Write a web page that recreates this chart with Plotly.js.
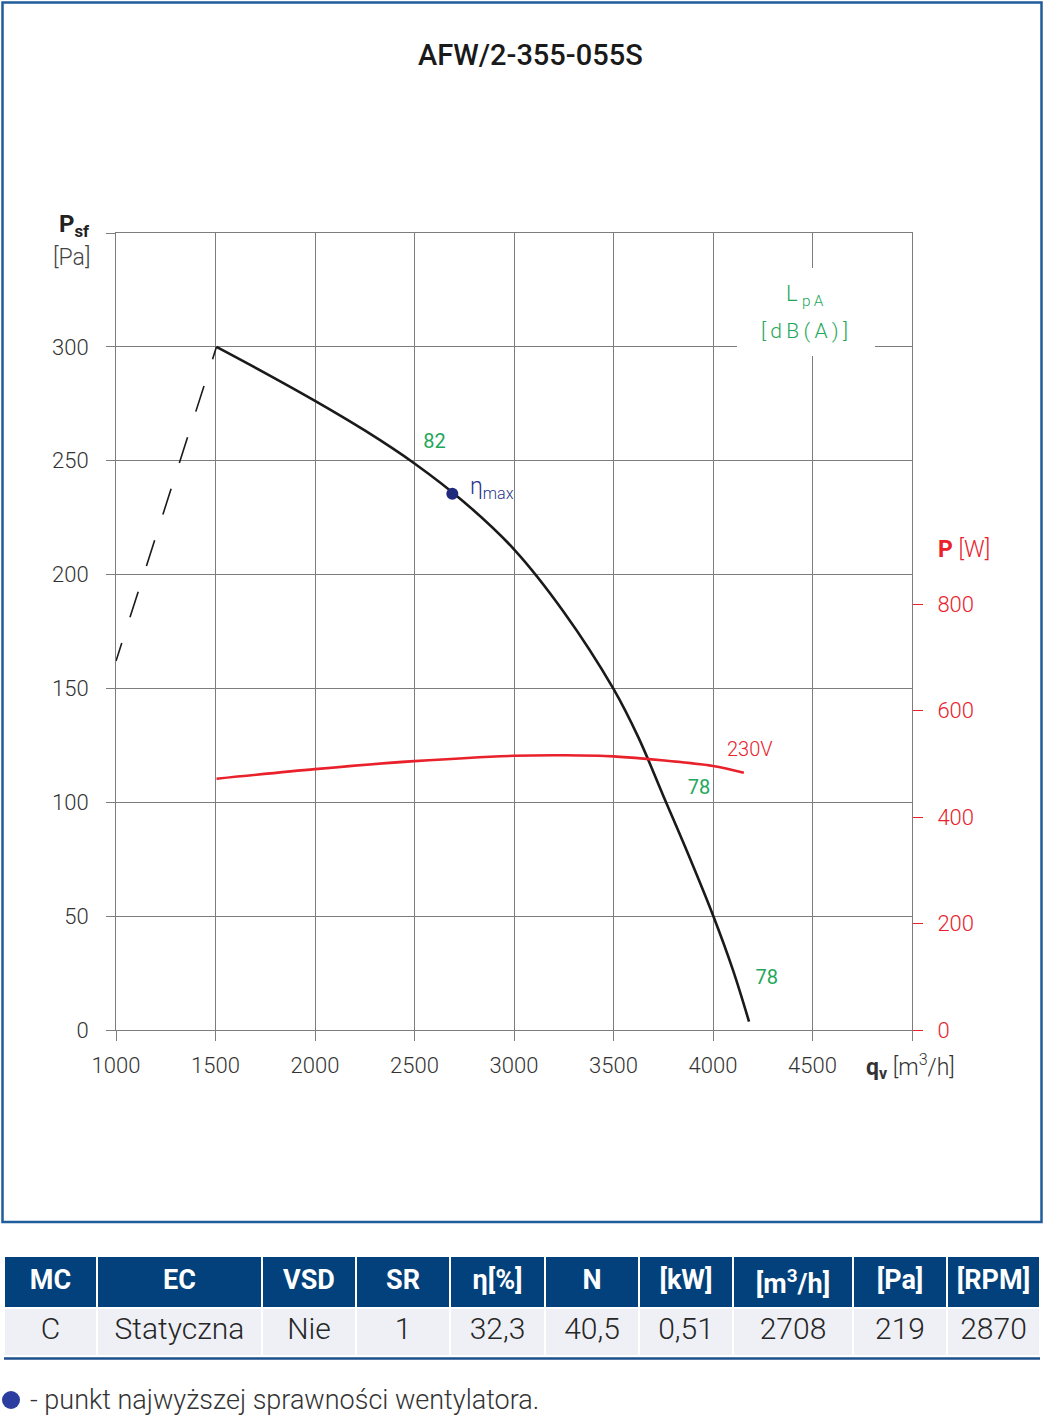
<!DOCTYPE html>
<html>
<head>
<meta charset="utf-8">
<script src="https://cdn.plot.ly/plotly-3.0.1.min.js"></script>
<style>html,body{margin:0;padding:0;background:#fff}#chart{width:1045px;height:1415px}</style>
</head>
<body>
<div id="chart"></div>
<script>
// ---- data ----
const chartTitle = "AFW/2-355-055S";
const flowCurve = [1505, 1750, 2000, 2250, 2500, 2750, 3000, 3250, 3500, 3625, 3750, 3875, 4000, 4100, 4181];
const pressureCurve = [300, 288.5, 276.3, 263.3, 248.8, 231.8, 211.1, 183.6, 149.8, 128.5, 102.9, 77.3, 50.4, 26.4, 3.7];
const flowStall = [1505, 1000];
const pressureStall = [300, 162];
const flowPower = [1505, 2000, 2500, 3000, 3250, 3500, 4000, 4155];
const powerCurve = [472, 490, 505, 515, 516, 514, 496, 483];
const flowEta = [2690];
const pressureEta = [235.5];
const xTicks = [1000, 1500, 2000, 2500, 3000, 3500, 4000, 4500, 5000];
const xTickText = ["1000", "1500", "2000", "2500", "3000", "3500", "4000", "4500", ""];
const yTicks = [0, 50, 100, 150, 200, 250, 300, 350];
const yTickText = ["0", "50", "100", "150", "200", "250", "300", ""];
const y2Ticks = [0, 200, 400, 600, 800];
const noiseLabels = ["82", "78", "78"];
const noiseFlow = [2600, 3930, 4270];
const noisePressure = [258, 106, 22.5];
const tableHeader = ["MC", "EC", "VSD", "SR", "η[%]", "N", "[kW]", "[m<sup>3</sup>/h]", "[Pa]", "[RPM]"];
const tableRow = ["C", "Statyczna", "Nie", "1", "32,3", "40,5", "0,51", "2708", "219", "2870"];
const tableColWidths = [93, 165, 94, 94, 95, 94, 94, 120, 94, 93];
const footnote = "- punkt najwyższej sprawności wentylatora.";

// ---- helpers (pixel -> paper) ----
const W = 1045, H = 1415;
const px = v => v / W;
const py = v => 1 - v / H;
const FONT = "Roboto, 'Open Sans', sans-serif";
const GRID = "#7d7d7d";
const RED = "#e8212b";
const GREEN = "#1ea75a";
const NAVY = "#27348b";

const traces = [
  { x: flowStall, y: pressureStall, type: "scatter", mode: "lines", xaxis: "x", yaxis: "y",
    line: { color: "#1a1a1a", width: 1.6, dash: "13px,28px,27px,27px,27px,27px,27px,27px,27px,27px,27px,27px,27px,27px" },
    hoverinfo: "skip", showlegend: false },
  { x: flowCurve, y: pressureCurve, type: "scatter", mode: "lines", xaxis: "x", yaxis: "y",
    line: { color: "#1a1a1a", width: 2.6, shape: "spline", smoothing: 1 }, showlegend: false },
  { x: flowPower, y: powerCurve, type: "scatter", mode: "lines", xaxis: "x", yaxis: "y2",
    line: { color: RED, width: 2.6, shape: "spline", smoothing: 0.8 }, showlegend: false },
  { x: flowEta, y: pressureEta, type: "scatter", mode: "markers", xaxis: "x", yaxis: "y",
    marker: { color: "#1f2a7c", size: 12 }, showlegend: false },
  { x: noiseFlow, y: noisePressure, text: noiseLabels, type: "scatter", mode: "text", xaxis: "x", yaxis: "y",
    textfont: { family: FONT, size: 20, color: GREEN }, textposition: "middle center", showlegend: false, hoverinfo: "skip" },
  { type: "table",
    domain: { x: [px(4), px(1040)], y: [py(1360), py(1256)] },
    columnwidth: tableColWidths,
    header: { values: tableHeader.map(v => "<b>" + v + "</b>"), height: 52, align: "center",
      fill: { color: "#02417b" }, line: { color: "#ffffff", width: 2 },
      font: { family: FONT, size: 27, color: "#ffffff" } },
    cells: { values: tableRow.map(v => [v]), height: 48, align: "center",
      fill: { color: "#eef0f5" }, line: { color: "#ffffff", width: 2 },
      font: { family: FONT, size: 30, color: "#262626", weight: 300 } } }
];

const axisLine = { showline: true, mirror: true, linecolor: GRID, linewidth: 1 };

const layout = {
  width: W, height: H,
  margin: { l: 0, r: 0, t: 0, b: 0 },
  paper_bgcolor: "#ffffff", plot_bgcolor: "#ffffff",
  font: { family: FONT, color: "#333333" },
  showlegend: false,
  xaxis: Object.assign({
    domain: [px(116), px(912)], range: [1000, 5000], tickmode: "array", tickvals: xTicks, ticktext: xTickText,
    showgrid: true, gridcolor: GRID, gridwidth: 1, zeroline: false,
    ticks: "outside", ticklen: 10, tickcolor: GRID, tickwidth: 1, ticklabelstandoff: 6,
    tickfont: { family: FONT, size: 22, color: "#333333", weight: 300 }, automargin: false, fixedrange: true
  }, axisLine),
  yaxis: Object.assign({
    domain: [py(1030), py(233)], range: [0, 350], tickmode: "array", tickvals: yTicks, ticktext: yTickText,
    showgrid: true, gridcolor: GRID, gridwidth: 1, zeroline: false,
    ticks: "outside", ticklen: 9, tickcolor: GRID, tickwidth: 1, ticklabelstandoff: 13,
    tickfont: { family: FONT, size: 22, color: "#333333", weight: 300 }, automargin: false, fixedrange: true
  }, axisLine),
  yaxis2: {
    overlaying: "y", side: "right", anchor: "x", range: [0, 1497], tickmode: "array", tickvals: y2Ticks,
    showgrid: false, zeroline: false, showline: false,
    ticks: "outside", ticklen: 10, tickcolor: RED, tickwidth: 1, ticklabelstandoff: 10,
    tickfont: { family: FONT, size: 22, color: RED, weight: 300 }, automargin: false, fixedrange: true
  },
  shapes: [
    { type: "rect", xref: "paper", yref: "paper", x0: px(2.5), x1: px(1041.5), y0: py(1222), y1: py(2.5),
      line: { color: "#1f5d9b", width: 2.5 }, fillcolor: "rgba(0,0,0,0)" },
    { type: "rect", xref: "paper", yref: "paper", x0: px(737), x1: px(875), y0: py(356), y1: py(268),
      fillcolor: "#ffffff", line: { width: 0 }, layer: "above" },
    { type: "line", xref: "paper", yref: "paper", x0: px(4), x1: px(1040), y0: py(1358.5), y1: py(1358.5),
      line: { color: "#1d4f8c", width: 2.5 } },
    { type: "circle", xref: "paper", yref: "paper", x0: px(2), x1: px(20), y0: py(1409), y1: py(1391),
      fillcolor: "#2b3d9e", line: { width: 0 } }
  ],
  annotations: [
    { text: chartTitle, xref: "paper", yref: "paper", x: px(530), y: py(55), xanchor: "center", yanchor: "middle",
      showarrow: false, font: { family: FONT, size: 29, color: "#1a1a1a", weight: 500 } },
    { text: "<b>P<sub>sf</sub></b>", xref: "paper", yref: "paper", x: px(92), y: py(226), xanchor: "right", yanchor: "middle",
      showarrow: false, font: { family: FONT, size: 24, color: "#222222" } },
    { text: "[Pa]", xref: "paper", yref: "paper", x: px(92), y: py(257), xanchor: "right", yanchor: "middle",
      showarrow: false, font: { family: FONT, size: 23, color: "#444444", weight: 300 } },
    { text: "<b>q<sub>v</sub></b> [m<sup>3</sup>/h]", xref: "paper", yref: "paper", x: px(864), y: py(1066), xanchor: "left", yanchor: "middle",
      showarrow: false, font: { family: FONT, size: 23, color: "#333333", weight: 300 } },
    { text: "<b>P</b> [W]", xref: "paper", yref: "paper", x: px(936), y: py(549), xanchor: "left", yanchor: "middle",
      showarrow: false, font: { family: FONT, size: 23, color: RED, weight: 300 } },
    { text: "L\u2009<sub>p\u2009A</sub>", xref: "paper", yref: "paper", x: px(805), y: py(295), xanchor: "center", yanchor: "middle",
      showarrow: false, font: { family: FONT, size: 22, color: GREEN, weight: 300 } },
    { text: "[\u2009d\u2009B\u2009(\u2009A\u2009)\u2009]", xref: "paper", yref: "paper", x: px(804), y: py(331), xanchor: "center", yanchor: "middle",
      showarrow: false, font: { family: FONT, size: 21, color: GREEN, weight: 300 } },
    { text: "230V", xref: "x", yref: "y2", x: 4185, y: 528, xanchor: "center", yanchor: "middle",
      showarrow: false, font: { family: FONT, size: 20, color: RED, weight: 300 } },
    { text: "η<sub>max</sub>", xref: "x", yref: "y", x: 2770, y: 238, xanchor: "left", yanchor: "middle",
      showarrow: false, font: { family: FONT, size: 23, color: NAVY, weight: 300 } },
    { text: footnote, xref: "paper", yref: "paper", x: px(28), y: py(1400), xanchor: "left", yanchor: "middle",
      showarrow: false, font: { family: FONT, size: 27, color: "#333333", weight: 300 } }
  ]
};

Plotly.newPlot("chart", traces, layout, { staticPlot: true, displayModeBar: false });
</script>
</body>
</html>
